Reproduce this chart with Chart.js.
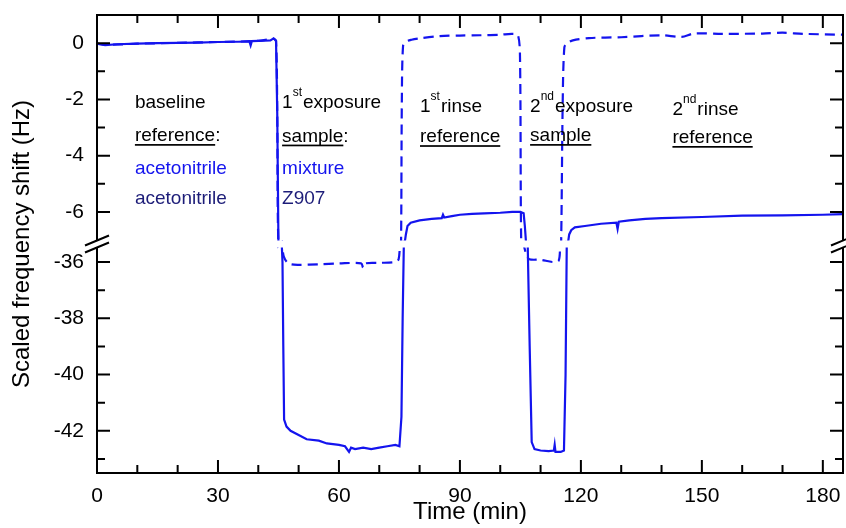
<!DOCTYPE html>
<html>
<head>
<meta charset="utf-8">
<script src="https://cdn.jsdelivr.net/npm/chart.js@4.4.1/dist/chart.umd.min.js"></script>
<style>
  html, body { margin: 0; padding: 0; background: #fff; }
  #wrap { width: 846px; height: 528px; }
</style>
</head>
<body>
<div id="wrap"><canvas id="graph--qcm" width="846" height="528"></canvas></div>
<script>
/*
* QCM run: baseline, two exposures and two rinses.
* Solid = sample channel, dashed = reference channel. Time in min, shift in Hz.
*/
const sampleTime = [0, 1, 2, 5, 10, 15, 20, 25, 30, 35, 37.8, 38.1, 38.4, 40, 43, 43.8, 44.4, 44.7, 45.0,
  45.8, 46.0, 46.2, 46.4, 47, 48, 50, 52, 55, 57, 60, 61.5, 62.5, 63, 64, 66, 68, 70, 72, 74, 75, 75.5, 75.8, 76.1,
  76.3, 76.6, 77.0, 77.8, 80, 83, 85.5, 85.8, 86.1, 88, 90, 93, 96, 100, 103, 105, 105.8, 106.1, 106.4,
  106.8, 107.3, 107.8, 108.5, 110, 112, 113.3, 113.5, 113.7, 115, 115.8, 116.2, 116.5,
  116.8, 117.1, 117.6, 118.5, 121, 125, 128.8, 129.1, 129.4, 132, 136, 140, 150, 160, 170, 180, 185];
const sampleShift = [-0.02, -0.04, -0.07, -0.04, -0.02, 0.0, 0.01, 0.02, 0.04, 0.05, 0.06, -0.08, 0.07, 0.08, 0.1, 0.17, 0.08, -2.5, -7.2,
  -35.3, -36.0, -39, -41.6, -41.85, -42.0, -42.15, -42.3, -42.35, -42.45, -42.5, -42.55, -42.75, -42.6, -42.65, -42.6, -42.65, -42.6, -42.55, -42.5, -42.55, -41.5, -38, -35.3,
  -7.1, -6.8, -6.5, -6.38, -6.3, -6.25, -6.22, -6.1, -6.2, -6.15, -6.1, -6.07, -6.05, -6.03, -6.0, -6.0, -6.05, -6.5, -7.1,
  -35.3, -39, -42.4, -42.65, -42.7, -42.72, -42.7, -42.5, -42.75, -42.75, -42.7, -40, -35.3,
  -7.1, -6.8, -6.65, -6.55, -6.5, -6.42, -6.38, -6.6, -6.35, -6.3, -6.25, -6.22, -6.18, -6.13, -6.12, -6.1, -6.08];

const referenceTime = [0, 2, 10, 20, 30, 40, 43.8, 44.4, 44.7, 45.0,
  45.8, 46.3, 47.5, 50, 55, 60, 65.5, 66, 66.5, 70, 74, 74.8, 75.2,
  75.4, 75.6, 75.9, 76.6, 78, 80, 85, 90, 95, 100, 103, 104.4, 104.9, 105.2,
  105.6, 106.4, 107.2, 110, 113, 114.5, 114.9,
  115.1, 115.5, 115.9, 116.6, 118, 122, 130, 140, 145, 148, 155, 165, 170, 175, 185];
const referenceShift = [-0.02, -0.06, -0.02, 0.01, 0.04, 0.08, 0.15, 0.08, -2.5, -7.2,
  -35.3, -35.8, -36.05, -36.1, -36.08, -36.05, -36.05, -36.2, -36.05, -36.03, -36.0, -35.9, -35.3,
  -7.1, -2, -0.1, 0.05, 0.12, 0.17, 0.25, 0.27, 0.28, 0.3, 0.33, 0.28, -0.5, -7.1,
  -35.3, -35.7, -35.9, -35.92, -36.0, -35.95, -35.3,
  -7.1, -2, -0.15, 0.0, 0.1, 0.18, 0.21, 0.28, 0.22, 0.34, 0.33, 0.34, 0.37, 0.33, 0.3];

const xMajorTicks = [0, 30, 60, 90, 120, 150, 180];
const xMinorTicks = [10, 20, 40, 50, 70, 80, 100, 110, 130, 140, 160, 170];
const yMajorTicks = [0, -2, -4, -6, -36, -38, -40, -42];
const yMinorTicks = [-1, -3, -5, -37, -39, -41, -43];

// broken y axis: the lower part (-36 .. -43.5) is pulled up under the upper part
const GAP_SPLIT = -20;
const GAP_OFFSET = 28.22;
const BREAK_AT = -7.14; // axis units, where the // marks sit

function toAxis(v) { return v < GAP_SPLIT ? v + GAP_OFFSET : v; }
function fromAxis(a) { return a < BREAK_AT ? a - GAP_OFFSET : a; }

const BLUE = "#1414ee";
const NAVY = "#1c1c78";
const BLACK = "#000";
const FONT = "'Liberation Sans', Arial, sans-serif";

// text blocks inside the plot, placed at (time, axis value)
const notes = [
  {t: 9.4, v: -2.31, color: BLACK, parts: [["baseline"]]},
  {t: 9.4, v: -3.48, color: BLACK, parts: [["reference", "u"], [":"]]},
  {t: 9.4, v: -4.65, color: BLUE, parts: [["acetonitrile"]]},
  {t: 9.4, v: -5.72, color: NAVY, parts: [["acetonitrile"]]},
  {t: 45.9, v: -2.31, color: BLACK, parts: [["1"], ["st", "sup"], ["exposure"]]},
  {t: 45.9, v: -3.5, color: BLACK, parts: [["sample", "u"], [":"]]},
  {t: 45.9, v: -4.65, color: BLUE, parts: [["mixture"]]},
  {t: 45.9, v: -5.72, color: NAVY, parts: [["Z907"]]},
  {t: 80.1, v: -2.45, color: BLACK, parts: [["1"], ["st", "sup"], ["rinse"]]},
  {t: 80.1, v: -3.52, color: BLACK, parts: [["reference", "u"]]},
  {t: 107.4, v: -2.45, color: BLACK, parts: [["2"], ["nd", "sup"], ["exposure"]]},
  {t: 107.4, v: -3.48, color: BLACK, parts: [["sample", "u"]]},
  {t: 142.7, v: -2.56, color: BLACK, parts: [["2"], ["nd", "sup"], ["rinse"]]},
  {t: 142.7, v: -3.55, color: BLACK, parts: [["reference", "u"]]}
];

function drawNote(ctx, x, y, note) {
  let cx = x;
  note.parts.forEach(([text, style]) => {
    const sup = style === "sup";
    ctx.font = (sup ? 12 : 19) + "px " + FONT;
    ctx.fillStyle = note.color;
    ctx.fillText(text, cx, sup ? y - 12 : y);
    const w = ctx.measureText(text).width;
    if (style === "u") ctx.fillRect(cx, y + 3, w, 1.7);
    cx += w + (sup ? 1 : 0);
  });
}

// box with inward ticks on all four sides, the axis break and the notes
const frameTicks = {
  id: "frameTicks",
  afterDatasetsDraw(chart) {
    const {ctx, chartArea: a, scales: {x, y}} = chart;
    ctx.save();
    ctx.strokeStyle = BLACK;
    ctx.lineWidth = 2;
    ctx.strokeRect(a.left, a.top, a.right - a.left, a.bottom - a.top);

    ctx.beginPath();
    const xTick = (v, len) => {
      const px = x.getPixelForValue(v);
      ctx.moveTo(px, a.bottom); ctx.lineTo(px, a.bottom - len);
      ctx.moveTo(px, a.top); ctx.lineTo(px, a.top + len);
    };
    const yTick = (v, len) => {
      const py = y.getPixelForValue(toAxis(v));
      ctx.moveTo(a.left, py); ctx.lineTo(a.left + len, py);
      ctx.moveTo(a.right, py); ctx.lineTo(a.right - len, py);
    };
    xMajorTicks.forEach(v => xTick(v, 13));
    xMinorTicks.forEach(v => xTick(v, 8));
    yMajorTicks.forEach(v => yTick(v, 13));
    yMinorTicks.forEach(v => yTick(v, 8));
    ctx.stroke();

    // gap of the broken axis
    const yb = y.getPixelForValue(BREAK_AT);
    ctx.fillStyle = "#fff";
    ctx.fillRect(a.left - 14, yb - 3.5, a.right - a.left + 30, 7);
    ctx.beginPath();
    [a.left, a.right].forEach(ax => {
      [-3.5, 3.5].forEach(dy => {
        ctx.moveTo(ax - 12, yb + dy + 5);
        ctx.lineTo(ax + 12, yb + dy - 5);
      });
    });
    ctx.stroke();

    ctx.textBaseline = "alphabetic";
    ctx.textAlign = "left";
    notes.forEach(n => drawNote(ctx, x.getPixelForValue(n.t), y.getPixelForValue(n.v), n));
    ctx.restore();
  }
};

const CANVAS = document.getElementById("graph--qcm");

let qcmChart = new Chart(CANVAS, {
  type: "line",
  data: {
    datasets: [{
      label: "sample",
      data: sampleTime.map((t, i) => ({x: t, y: toAxis(sampleShift[i])})),
      borderColor: BLUE,
      borderWidth: 2.2,
      pointRadius: 0,
      fill: false,
      tension: 0
    }, {
      label: "reference",
      data: referenceTime.map((t, i) => ({x: t, y: toAxis(referenceShift[i])})),
      borderColor: BLUE,
      borderWidth: 2.2,
      borderDash: [10, 6],
      pointRadius: 0,
      fill: false,
      tension: 0.3
    }]
  },
  options: {
    responsive: false,
    animation: false,
    events: [],
    layout: {padding: {top: 15, right: 3, left: 0, bottom: 0}},
    plugins: {legend: {display: false}, tooltip: {enabled: false}},
    scales: {
      x: {
        type: "linear",
        min: 0,
        max: 185,
        grid: {display: false, drawTicks: false},
        border: {display: false},
        afterBuildTicks: s => { s.ticks = xMajorTicks.map(v => ({value: v})); },
        afterFit: s => { s.height = 55; s.paddingLeft = 0; s.paddingRight = 0; },
        ticks: {font: {family: FONT, size: 21}, color: BLACK, padding: 11, maxRotation: 0, autoSkip: false},
        title: {display: true, text: "Time (min)", color: BLACK,
          font: {family: FONT, size: 24, lineHeight: 1.2}, padding: {top: 0, bottom: 1}}
      },
      y: {
        type: "linear",
        min: toAxis(-43.5),
        max: 1,
        grid: {display: false, drawTicks: false},
        border: {display: false},
        afterBuildTicks: s => { s.ticks = yMajorTicks.map(v => ({value: toAxis(v)})); },
        afterFit: s => { s.width = 97; s.paddingTop = 0; s.paddingBottom = 0; },
        ticks: {font: {family: FONT, size: 21}, color: BLACK, padding: 13, autoSkip: false,
          callback: v => String(Math.round(fromAxis(v)))},
        title: {display: true, text: "Scaled frequency shift (Hz)", color: BLACK,
          font: {family: FONT, size: 24, lineHeight: 1.2}, padding: {top: 8, bottom: 0}}
      }
    }
  },
  plugins: [frameTicks]
});
</script>
</body>
</html>
